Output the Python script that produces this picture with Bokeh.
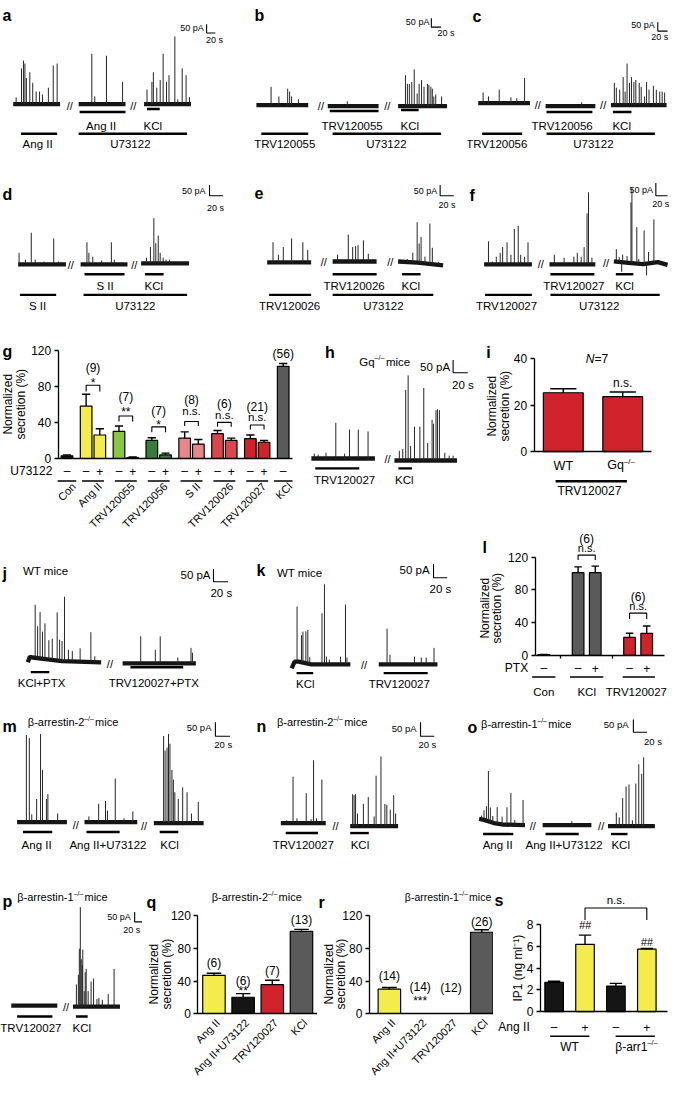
import numpy as np
from bokeh.plotting import figure
from bokeh.layouts import column, row
from bokeh.models import Range1d, LinearAxis, FixedTicker
from bokeh.core.properties import value
from bokeh.embed import file_html
from bokeh.resources import INLINE

# ---------------- DATA ----------------
# Trace spikes: time from segment start (s) and amplitude (pA)
A1_T = [6, 17, 21, 24, 27, 34, 40, 47, 54, 60, 72, 82, 90]
A1_AMP = [49, 259, 315, 294, 189, 231, 154, 91, 91, 70, 119, 280, 294]
A2_T = [27, 33, 57, 90]
A2_AMP = [364, 56, 350, 161]
A3_T = [6, 16, 19, 26, 33, 39, 46, 51, 63, 69, 78, 86, 93]
A3_AMP = [105, 161, 231, 119, 175, 364, 161, 210, 490, 35, 259, 210, 49]
B1_T = [30, 46, 64, 68, 72, 86]
B1_AMP = [133, 63, 119, 98, 63, 42]
B2_T = [40]
B2_AMP = [35]
B3_T = [15, 19, 23, 28, 33, 39, 43, 48, 53, 60, 63, 67, 70, 73, 77, 89]
B3_AMP = [224, 161, 161, 175, 266, 91, 161, 189, 140, 161, 154, 140, 126, 70, 84, 70]
C1_T = [10, 21, 43, 67, 79, 95]
C1_AMP = [77, 49, 98, 42, 35, 182]
C2_T = [74]
C2_AMP = [28]
C3_T = [7, 11, 18, 25, 29, 33, 38, 42, 47, 51, 58, 62, 69, 73, 78, 87, 93, 100, 105, 110]
C3_AMP = [161, 126, 112, 203, 98, 301, 161, 203, 168, 182, 161, 133, 63, 168, 112, 140, 112, 98, 98, 91]
D1_T = [2, 15, 27, 35, 43, 53, 63, 73, 83]
D1_AMP = [84, 35, 231, 35, 14, 21, 14, 189, 21]
D2_T = [13, 17, 25, 43, 63, 69, 83]
D2_AMP = [161, 84, 56, 28, 161, 35, 14]
D3_T = [11, 19, 26, 30, 35, 39, 45, 51, 58, 81]
D3_AMP = [42, 119, 329, 147, 203, 77, 42, 28, 28, 7]
E1_T = [12, 23, 33, 50, 73, 83]
E1_AMP = [147, 56, 112, 175, 147, 91]
E2_T = [10, 32, 41, 47, 52, 63, 73]
E2_AMP = [49, 196, 105, 112, 119, 154, 56]
E3_T = [19, 30, 39, 43, 47, 55, 65, 70, 83]
E3_AMP = [21, 70, 294, 140, 189, 49, 294, 119, 21]
E3_DRIFT_T = [0, 40, 92]
E3_DRIFT = [0, -8, -28]
F1_T = [9, 17, 25, 33, 38, 47, 55, 62, 70, 75, 83, 90]
F1_AMP = [168, 21, 56, 84, 126, 161, 70, 259, 280, 70, 56, 161]
F2_T = [10, 30, 50, 57, 65, 71, 77, 80, 87]
F2_AMP = [70, 49, 56, 84, 56, 126, 371, 525, 49]
F3_T = [5, 11, 16, 18, 27, 35, 37, 47, 51, 62, 67, 71, 82]
F3_AMP = [91, 35, -70, 56, 49, 441, 546, 266, 35, 245, -84, 84, 315]
F3_DRIFT_T = [0, 30, 60, 90, 110]
F3_DRIFT = [0, -10, -20, -5, -25]
H1_T = [6, 14, 30, 50, 68, 78, 96, 116]
H1_AMP = [35, 28, 42, 259, 35, 210, 210, 196]
H2_T = [10, 17, 23, 28, 33, 41, 52, 60, 68, 77, 80, 85, 88, 92, 103, 112, 120]
H2_AMP = [70, 84, 511, 616, 105, 245, 245, 525, 126, 294, 266, 364, 371, 364, 56, 35, 35]
J1_T = [7, 15, 20, 25, 30, 35, 43, 50, 60, 65, 70, 75, 83, 91, 107, 129, 137]
J1_AMP = [14, 385, 231, 336, 196, 259, 140, 154, 350, 154, 147, 469, 84, 77, 98, 217, 42]
J1_DRIFT_T = [0, 4, 10, 40, 70, 150]
J1_DRIFT = [0, 40, 35, 22, 8, 0]
J2_T = [37, 67, 77, 113, 140, 143]
J2_AMP = [196, 98, 196, 42, 112, 77]
K1_T = [11, 20, 23, 29, 33, 37, 62, 67, 71, 77, 100, 110, 113]
K1_AMP = [399, 196, 224, 231, 245, 49, 371, 581, 56, 35, 56, 434, 49]
K1_DRIFT_T = [0, 6, 14, 40, 120]
K1_DRIFT = [-30, 20, 20, 0, 0]
K2_T = [17, 23, 73, 87, 97, 113]
K2_AMP = [259, 70, 56, 49, 49, 119]
M1_T = [19, 25, 30, 40, 48, 52, 60, 63, 83]
M1_AMP = [630, 609, 56, 168, 637, 378, 168, 203, 63]
M2_T = [9, 29, 43, 47, 63, 81, 99]
M2_AMP = [42, 133, 154, 84, 315, 28, 77]
M3_T = [20, 23, 27, 30, 33, 37, 40, 43, 50, 59, 68, 77, 91]
M3_AMP = [630, 525, 546, 644, 574, 385, 315, 224, 175, 259, 224, 70, 154]
N1_T = [12, 25, 33, 52, 62, 67, 73, 84]
N1_AMP = [21, 336, 35, 217, 28, 455, 35, 315]
N2_T = [5, 8, 11, 15, 27, 37, 49, 53, 63, 71, 75, 82, 89, 93]
N2_AMP = [231, 224, 231, 91, 161, 210, 70, 364, 504, 161, 154, 119, 224, 91]
O1_T = [5, 10, 15, 19, 23, 28, 37, 47, 57, 65, 73, 90]
O1_AMP = [28, 70, 105, 364, 105, 49, 119, 56, 126, 231, 35, 182]
O1_DRIFT_T = [0, 10, 30, 50, 94]
O1_DRIFT = [45, 38, 15, 4, 0]
O2_T = [60]
O2_AMP = [28]
O3_T = [17, 23, 30, 37, 43, 50, 57, 63, 69, 73]
O3_AMP = [98, 63, 203, 287, 301, 42, 308, 448, 378, 497]
P1_T = [4]
P1_AMP = [14]
P2_T = [7, 11, 13, 15, 17, 19, 20, 23, 25, 27, 31, 37, 42, 49, 53, 60, 72, 84]
P2_AMP = [161, 231, 420, 721, 343, 300, 413, 112, 250, 273, 112, 182, 203, 56, 63, 49, 91, 273]

# Bar charts
G_GROUPS = ["Con", "Ang II", "TRV120055", "TRV120056", "S II", "TRV120026", "TRV120027", "KCl"]
G_MINUS = [3, 58, 30, 20, 22.5, 27.5, 22, 102]
G_MINUS_ERR = [1, 13, 6, 3, 7, 3.5, 4, 3]
G_PLUS = [None, 26, 1, 4, 16, 20, 18, None]
G_PLUS_ERR = [None, 7, 0.6, 2, 5, 2.5, 2, None]
G_N = ["", "(9)", "(7)", "(7)", "(8)", "(6)", "(21)", "(56)"]
G_SIG = ["", "*", "**", "*", "n.s.", "n.s.", "n.s.", ""]
G_COLORS = ["#151515", "#f3ec4c", "#8cc540", "#3a7b39", "#e7878b", "#d9464c", "#d0222a", "#5a5a5a"]

I_GROUPS = ["WT", "Gq"]
I_VALS = [25.4, 23.7]
I_ERR = [1.7, 2.0]

L_GROUPS = ["Con", "KCl", "TRV120027"]
L_VALS = [1, 101, 101, 22, 27]
L_ERR = [0.3, 7, 8, 5, 9]
L_PTX = ["–", "–", "+", "–", "+"]
L_N = ["(6)", "(6)"]

Q_CATS = ["Ang II", "Ang II+U73122", "TRV120027", "KCl"]
Q_VALS = [47, 20, 35.5, 101]
Q_ERR = [2.5, 4.5, 5.5, 2.5]
Q_N = ["(6)", "(6)", "(7)", "(13)"]
Q_SIG = ["", "**", "", ""]

R_CATS = ["Ang II", "Ang II+U73122", "TRV120027", "KCl"]
R_VALS = [30, 0, 0, 100]
R_ERR = [2, 0, 0, 3]
R_N = ["(14)", "(14)", "(12)", "(26)"]
R_SIG = ["", "***", "", ""]

S_VALS = [2.7, 6.2, 2.35, 5.75]
S_ERR = [0.1, 0.85, 0.25, 0.06]
S_ANGII = ["–", "+", "–", "+"]
S_GROUPS = ["WT", "β-arr1"]

# ---------------- STYLE / LAYOUT ----------------
FONT = "Liberation Sans"
SX = 669 / 685
SY = 1081 / 1097
KX = 0.5    # px per s in traces
KY = 0.14   # px per pA in traces
YEL, RED, GRAY, BLK = "#f3ec4c", "#d0222a", "#5a5a5a", "#151515"

ROW_W = [[258, 220, 207], [258, 220, 207], [312, 178, 195], [260, 230, 195], [258, 217, 210], [145, 180, 180, 180]]
ROW_H = [154, 165, 221, 182, 171, 204]


def scaled(sizes, s):
    out, c, prev = [], 0, 0
    for v in sizes:
        c += v
        e = int(round(c * s))
        out.append(e - prev)
        prev = e
    return out


WS = [scaled(r, SX) for r in ROW_W]
HS = scaled(ROW_H, SY)

CW = {' ': .278, 'a': .556, 'b': .556, 'c': .5, 'd': .556, 'e': .556, 'f': .278, 'g': .556, 'h': .556,
      'i': .222, 'j': .222, 'k': .5, 'l': .222, 'm': .833, 'n': .556, 'o': .556, 'p': .556, 'q': .556,
      'r': .333, 's': .5, 't': .278, 'u': .556, 'v': .5, 'w': .722, 'x': .5, 'y': .5, 'z': .5,
      'A': .667, 'C': .722, 'G': .778, 'I': .278, 'K': .667, 'N': .722, 'P': .667, 'R': .722, 'T': .611,
      'U': .722, 'V': .667, 'W': .944, 'X': .667, 'β': .57, '–': .556, '-': .333, '/': .278,
      '(': .333, ')': .333, '=': .584, '+': .584, '.': .278}


def tw(s, size):
    return sum(CW.get(c, .556) for c in s) * size


def mk(W, H, wpx, hpx, xr, yr, dy=0):
    p = figure(width=wpx, height=hpx, x_range=Range1d(xr[0], xr[1]), y_range=Range1d(yr[0], yr[1]),
               x_axis_type=None, y_axis_type=None, toolbar_location=None, output_backend="svg",
               min_border=0, outline_line_color=None, background_fill_color="white",
               border_fill_color="white")

    def fx(px):
        return xr[0] + np.asarray(px, dtype=float) / W * (xr[1] - xr[0])

    def fy(py):
        return yr[1] - (np.asarray(py, dtype=float) + dy) / H * (yr[1] - yr[0])
    return p, fx, fy


def T(p, x, y, s, size, align="center", base="middle", style="normal", angle=0.0):
    p.text(x=[float(x)], y=[float(y)], text=[s], text_font=value(FONT), text_font_size=value(f"{size}px"),
           text_align=align, text_baseline=base, text_font_style=style, angle=angle, text_color="black")


def suptext(P, x, y, parts, size, align="left"):
    p, fx, fy = P
    sizes = [size * 0.62 if s else size for _, s in parts]
    adv = [tw(t, sz) + (size * 0.12 if s else 0) for (t, s), sz in zip(parts, sizes)]
    total = sum(adv) / SX
    cx = x - total / 2 if align == "center" else x
    for (t, s), sz, a in zip(parts, sizes, adv):
        yy = y - size * 0.34 if s else y
        T(p, fx(cx), fy(yy), t, round(sz, 1), align="left")
        cx += a / SX


def seg(P, x0, x1, base, ts, amps, dt=None, dv=None):
    p, fx, fy = P
    L = (x1 - x0) / KX
    xs0 = float(fx(x0))
    yb = float(fy(base))
    if dt is None:
        dt, dv = [0.0, L], [0.0, 0.0]
    dt = np.asarray(dt, float)
    dv = np.asarray(dv, float)
    p.line(x=list(xs0 + dt), y=list(yb + dv), line_width=4.3, line_color="#151515")
    t = np.asarray(ts, float)
    a = np.asarray(amps, float)
    y0 = yb + np.interp(t, dt, dv)
    p.segment(x0=list(xs0 + t), y0=list(y0), x1=list(xs0 + t), y1=list(y0 + a),
              line_width=1.0, line_color="#262626")


def trace_panel(W, H, wpx, hpx, letter, segs, slashes, bars, scale, title=None, title_size=11.5,
                lab_size=11.5, dy=0):
    P = mk(W, H, wpx, hpx, (0, W / KX), (0, H / KY), dy=dy)
    p, fx, fy = P
    for sg in segs:
        seg(P, *sg)
    for (x, y) in slashes:
        T(p, fx(x), fy(y), "//", 11)
    for (x0, x1, y, lab, lx, ly) in bars:
        p.line(x=list(fx([x0, x1])), y=list(fy([y, y])), line_width=2.4, line_color="black")
        T(p, fx(lx), fy(ly), lab, lab_size)
    xb, yt, yb, xe, t1x, t1y, t2x, t2y, ss = scale
    p.line(x=list(fx([xb, xb, xe])), y=list(fy([yt, yb, yb])), line_width=1.1, line_color="black")
    T(p, fx(t1x), fy(t1y), "50 pA", ss, align="right")
    T(p, fx(t2x), fy(t2y), "20 s", ss)
    ch, lx, ly = letter
    T(p, fx(lx), fy(ly), ch, 16, align="left", base="alphabetic", style="bold")
    if title is not None:
        tx, ty, parts = title
        suptext(P, tx, ty, parts, title_size)
    return p


def yax(p, xloc, lo, hi, ticks):
    ax = LinearAxis(fixed_location=xloc, bounds=(lo, hi), ticker=FixedTicker(ticks=ticks))
    ax.major_tick_in = 0
    ax.major_tick_out = 4
    ax.minor_tick_line_color = None
    ax.axis_line_width = 1.3
    ax.major_tick_line_width = 1.3
    ax.axis_line_color = "black"
    ax.major_tick_line_color = "black"
    ax.major_label_text_font = FONT
    ax.major_label_text_font_size = "12px"
    ax.major_label_text_color = "black"
    ax.major_label_standoff = 3
    p.add_layout(ax, "left")


def ylab(P, lines, xs, yc, size=12):
    p, fx, fy = P
    for s, x in zip(lines, xs):
        T(p, fx(x), fy(yc), s, size, angle=np.pi / 2)


def xax(p, lo, hi, ticks=()):
    ax = LinearAxis(fixed_location=0, bounds=(lo, hi), ticker=FixedTicker(ticks=list(ticks)))
    ax.major_tick_in = 0
    ax.major_tick_out = 3
    ax.minor_tick_line_color = None
    ax.axis_line_width = 1.3
    ax.major_tick_line_width = 1.3
    ax.axis_line_color = "black"
    ax.major_label_text_alpha = 0
    ax.major_label_text_font_size = "1px"
    p.add_layout(ax, "below")


def errs(p, xs, tops, es, cap):
    xs = np.asarray(xs, float)
    tops = np.asarray(tops, float)
    es = np.asarray(es, float)
    p.segment(x0=list(xs), y0=list(tops), x1=list(xs), y1=list(tops + es), line_width=1.4, line_color="black")
    p.segment(x0=list(xs - cap), y0=list(tops + es), x1=list(xs + cap), y1=list(tops + es),
              line_width=1.4, line_color="black")


def bracket(p, xa, xb, top, leg):
    p.line(x=[xa, xa, xb, xb], y=[leg, top, top, leg], line_width=1.1, line_color="black")


BARR2 = [("β-arrestin-2", False), ("–/–", True), (" mice", False)]
BARR1 = [("β-arrestin-1", False), ("–/–", True), (" mice", False)]
NS2 = ["Normalized", "secretion (%)"]

# ---------------- ROW 1 ----------------
pa = trace_panel(258, 154, WS[0][0], HS[0], ("a", 2, 15.5),
                 [(13, 61, 105, A1_T, A1_AMP), (80, 128, 105, A2_T, A2_AMP), (147, 195, 105, A3_T, A3_AMP)],
                 [(71, 107), (136, 107)],
                 [(81, 128, 113, "Ang II", 103, 127), (150, 163, 110, "KCl", 156, 127),
                  (21, 58, 135, "Ang II", 38, 145), (80, 191, 135, "U73122", 133, 145)],
                 (211, 24, 33, 220, 208, 28, 219, 40, 9))
pb = trace_panel(220, 154, WS[0][1], HS[0], ("b", 2, 15.5),
                 [(4, 57, 106, B1_T, B1_AMP), (77, 129, 107, B2_T, B2_AMP), (149, 199, 107, B3_T, B3_AMP)],
                 [(70, 107), (138, 107)],
                 [(79, 129, 112, "TRV120055", 102, 127), (152, 170, 111, "KCl", 161, 127),
                  (9, 57, 135, "TRV120055", 33, 145), (82, 193, 135, "U73122", 137, 145)],
                 (183, 18, 27, 193, 181, 22, 198, 33, 9))
pc = trace_panel(207, 154, WS[0][2], HS[0], ("c", 5, 16),
                 [(11, 64, 104, C1_T, C1_AMP), (80, 131, 107, C2_T, C2_AMP), (147, 204, 106, C3_T, C3_AMP)],
                 [(72, 106), (139, 106)],
                 [(81, 128, 113, "TRV120056", 97, 127), (149, 168, 113, "KCl", 158, 127),
                  (15, 56, 135, "TRV120056", 30, 145), (81, 192, 135, "U73122", 129, 145)],
                 (195, 22, 31, 205, 192, 25, 197, 37, 9))

# ---------------- ROW 2 ----------------
pd_ = trace_panel(258, 165, WS[1][0], HS[1], ("d", 2, 47),
                  [(18, 67, 118, D1_T, D1_AMP), (82, 130, 118, D2_T, D2_AMP), (144, 193, 117, D3_T, D3_AMP)],
                  [(72, 119), (137, 119)],
                  [(86, 127, 128, "S II", 107, 140), (148, 167, 128, "KCl", 157, 140),
                   (20, 57, 149, "S II", 38, 160), (85, 191, 149, "U73122", 138, 160)],
                  (214, 37, 48, 228, 210, 43, 220, 61, 9), dy=-4)
pe = trace_panel(220, 165, WS[1][1], HS[1], ("e", 2, 45),
                 [(15, 60, 116, E1_T, E1_AMP), (82, 127, 115, E2_T, E2_AMP),
                  (149, 195, 115, E3_T, E3_AMP, E3_DRIFT_T, E3_DRIFT)],
                 [(73, 116), (141, 116)],
                 [(82, 127, 128, "TRV120026", 104, 140), (153, 172, 128, "KCl", 162, 140),
                  (17, 60, 149, "TRV120026", 38, 160), (82, 185, 149, "U73122", 134, 160)],
                 (192, 37, 48, 206, 189, 43, 199, 57, 9), dy=-4)
pf = trace_panel(207, 165, WS[1][2], HS[1], ("f", 2, 48),
                 [(17, 66, 118, F1_T, F1_AMP), (84, 131, 118, F2_T, F2_AMP),
                  (150, 205, 115, F3_T, F3_AMP, F3_DRIFT_T, F3_DRIFT)],
                 [(75, 118), (142, 117)],
                 [(85, 130, 128, "TRV120027", 109, 140), (152, 170, 128, "KCl", 161, 140),
                  (18, 66, 149, "TRV120027", 40, 160), (85, 197, 149, "U73122", 135, 160)],
                 (193, 35, 48, 205, 190, 42, 198, 56, 9), dy=-4)

# ---------------- ROW 3: g ----------------
W, H = 312, 221
gy = 110 / 120
P = mk(W, H, WS[2][0], HS[2], (-68 / 14, (W - 68) / 14), (-(H - 146) / gy, 146 / gy), dy=-3)
pg, fx, fy = P
xm = [0.0] + [1.4 + 2.4 * k for k in range(6)] + [15.8]
xp = [None] + [2.4 + 2.4 * k for k in range(6)] + [None]
bx, bt, be, bc, pm = [], [], [], [], []
for i in range(8):
    bx.append(xm[i]); bt.append(G_MINUS[i]); be.append(G_MINUS_ERR[i]); bc.append(G_COLORS[i]); pm.append("–")
    if G_PLUS[i] is not None:
        bx.append(xp[i]); bt.append(G_PLUS[i]); be.append(G_PLUS_ERR[i]); bc.append(G_COLORS[i]); pm.append("+")
pg.vbar(x=bx, top=bt, bottom=0, width=0.85, fill_color=bc, line_color="black", line_width=1.2)
errs(pg, bx, bt, be, 0.3)
xax(pg, -0.643, 16.5)
yax(pg, -0.643, 0, 120, [0, 40, 80, 120])
ylab(P, NS2, [8, 21], 94)
T(pg, fx(2), fy(41), "g", 16, align="left", base="alphabetic", style="bold")
GNY = [None, 100, 68, 52, 65, 60, 57, 116]
GSY = [None, 84, 51, 37, 52, 48, 46, None]
GBT = [None, 81, 47, 35, 41, 40, 37]
GBL = [None, 74, 41, 29, 36, 35, 32]
for i in range(8):
    c = xm[i] if xp[i] is None else (xm[i] + xp[i]) / 2
    if G_N[i]:
        T(pg, c, GNY[i], G_N[i], 12)
    if G_SIG[i]:
        T(pg, c, GSY[i], G_SIG[i], 12 if "*" in G_SIG[i] else 11.5)
        bracket(pg, xm[i], xp[i], GBT[i], GBL[i])
    if xp[i] is None:
        ua, ub = c - 0.68, c + 0.68
    else:
        ua, ub = xm[i] - 0.3, xp[i] + 0.3
    pg.line(x=[ua, ub], y=[-25, -25], line_width=1.5, line_color="black")
    T(pg, c + 0.5, -28.8, G_GROUPS[i], 11, align="right", angle=np.pi / 4)
T(pg, -1.07, -14.2, "U73122", 12, align="right")
for x, s in zip(bx, pm):
    T(pg, x, -14.2, s, 12)

# ---------------- ROW 3: h ----------------
ph = trace_panel(178, 221, WS[2][1], HS[2], ("h", 20, 42),
                 [(6, 71, 149, H1_T, H1_AMP), (91, 155, 151, H2_T, H2_AMP)],
                 [(84, 149)],
                 [(10, 55, 159, "TRV120027", 40, 171), (95, 109, 159, "KCl", 101, 171)],
                 (151, 49, 62, 166, 148, 56, 161, 74, 11.5),
                 title=(55, 51, [("Gq", False), ("–/–", True), (" mice", False)]), dy=-3)

# ---------------- ROW 3: i ----------------
W, H = 195, 221
P = mk(W, H, WS[2][2], HS[2], (-86 / 61, (W - 86) / 61), (-(H - 139) / 2.35, 139 / 2.35), dy=-3)
pi_, fx, fy = P
pi_.vbar(x=[0, 1], top=I_VALS, bottom=0, width=0.67, fill_color=RED, line_color="black", line_width=1.2)
errs(pi_, [0, 1], I_VALS, I_ERR, 0.22)
xax(pi_, -0.49, 1.49)
yax(pi_, -0.49, 0, 40, [0, 20, 40])
ylab(P, NS2, [13, 26], 96)
T(pi_, fx(7), fy(42), "i", 16, align="left", base="alphabetic", style="bold")
T(pi_, 0.525, 40, "N", 12, align="right", style="italic")
T(pi_, 0.525, 40, "=7", 12, align="left")
T(pi_, 1.0, 29.8, "n.s.", 12)
T(pi_, 0.0, -6, I_GROUPS[0], 12.5)
suptext(P, 146, 156, [(I_GROUPS[1], False), ("–/–", True)], 12.5, align="center")
pi_.line(x=[-0.13, 1.07], y=[-12.8, -12.8], line_width=2.4, line_color="black")
T(pi_, 0.44, -17, "TRV120027", 12)

# ---------------- ROW 4 ----------------
pj = trace_panel(260, 182, WS[3][0], HS[3], ("j", 2, 42),
                 [(28, 103, 132, J1_T, J1_AMP, J1_DRIFT_T, J1_DRIFT), (125, 200, 133, J2_T, J2_AMP)],
                 [(112, 134)],
                 [(31, 50, 142, "KCl+PTX", 42, 153), (133, 187, 137, "TRV120027+PTX", 157, 153)],
                 (218, 37, 50, 233, 215, 43, 226, 62, 11.5),
                 title=(23, 39, [("WT mice", False)]))
pk = trace_panel(230, 182, WS[3][1], HS[3], ("k", 2, 39),
                 [(38, 98, 134, K1_T, K1_AMP, K1_DRIFT_T, K1_DRIFT), (127, 187, 134, K2_T, K2_AMP)],
                 [(112, 135)],
                 [(43, 60, 143, "KCl", 52, 154), (132, 177, 143, "TRV120027", 148, 154)],
                 (183, 32, 46, 197, 179, 38, 190, 57, 11.5),
                 title=(23, 41, [("WT mice", False)]))

W, H = 195, 182
ly = 100 / 120
P = mk(W, H, WS[3][2], HS[3], (-66 / 17.6, (W - 66) / 17.6), (-(H - 125) / ly, 125 / ly))
pl, fx, fy = P
LX = [0, 2, 3, 5, 6]
pl.vbar(x=LX, top=L_VALS, bottom=0, width=0.68, fill_color=[BLK, GRAY, GRAY, RED, RED],
        line_color="black", line_width=1.2)
errs(pl, LX, L_VALS, L_ERR, 0.22)
xax(pl, -0.51, 7.05, ticks=[1, 4])
yax(pl, -0.51, 0, 120, [0, 40, 80, 120])
ylab(P, NS2, [6, 18], 77)
T(pl, fx(3), fy(15), "l", 16, align="left", base="alphabetic", style="bold")
bracket(pl, 2, 3, 122.4, 116.4)
T(pl, 2.5, 131, "n.s.", 11)
T(pl, 2.5, 142.5, L_N[0], 12)
bracket(pl, 5, 6, 51.6, 44.4)
T(pl, 5.5, 60, "n.s.", 11)
T(pl, 5.5, 71, L_N[1], 12)
T(pl, -0.91, -15.6, "PTX", 12, align="right")
for x, s in zip(LX, L_PTX):
    T(pl, x, -15.6, s, 12)
for (ua, ub) in [(-0.68, 0.68), (1.53, 3.47), (4.6, 6.48)]:
    pl.line(x=[ua, ub], y=[-26.4, -26.4], line_width=1.5, line_color="black")
for x, s in zip([0, 2.5, 5.4], L_GROUPS):
    T(pl, x, -44.4, s, 11.5)

# ---------------- ROW 5 ----------------
pm_ = trace_panel(258, 171, WS[4][0], HS[4], ("m", 2, 15),
                  [(17, 68, 112, M1_T, M1_AMP), (86, 140, 112, M2_T, M2_AMP), (157, 208, 113, M3_T, M3_AMP)],
                  [(77, 115), (147, 116)],
                  [(23, 53, 122, "Ang II", 37, 135), (88, 122, 122, "Ang II+U73122", 110, 135),
                   (163, 182, 122, "KCl", 173, 135)],
                  (220, 11, 25, 235, 216, 16, 228, 33, 9.5),
                  title=(28, 11, BARR2), title_size=11)
pn = trace_panel(217, 171, WS[4][1], HS[4], ("n", 4, 15),
                 [(29, 75, 113, N1_T, N1_AMP), (100, 149, 116, N2_T, N2_AMP)],
                 [(85, 116)],
                 [(34, 67, 123, "TRV120027", 52, 135), (100, 119, 123, "KCl", 110, 135)],
                 (172, 11, 25, 186, 168, 17, 179, 33, 9.5),
                 title=(25, 11, BARR2), title_size=11)
po = trace_panel(210, 171, WS[4][2], HS[4], ("o", 3, 16),
                 [(15, 62, 115, O1_T, O1_AMP, O1_DRIFT_T, O1_DRIFT), (80, 130, 115, O2_T, O2_AMP),
                  (147, 195, 116, O3_T, O3_AMP)],
                 [(70, 116), (140, 116)],
                 [(19, 50, 124, "Ang II", 34, 135), (83, 117, 124, "Ang II+U73122", 102, 135),
                  (150, 167, 124, "KCl", 160, 135)],
                 (173, 8, 21, 187, 168, 13, 193, 30, 9.5),
                 title=(17, 13, BARR1), title_size=11)

# ---------------- ROW 6 ----------------
pp = trace_panel(145, 204, WS[5][0], HS[5], ("p", 2, 21),
                 [(11, 58, 127, P1_T, P1_AMP), (74, 122, 128, P2_T, P2_AMP)],
                 [(67, 128)],
                 [(17, 53, 138, "TRV120027", 31, 150), (77, 89, 138, "KCl", 83, 150)],
                 (137, 32, 42, 145, 133, 37, 134, 50, 9),
                 title=(17, 17, BARR1), title_size=11)

# q
W, H = 180, 204
qy = 0.825
P = mk(W, H, WS[5][1], HS[5], (-73.5 / 30, (W - 73.5) / 30), (-(H - 135) / qy, 135 / qy))
pq, fx, fy = P
QX = [0, 1, 2, 3]
pq.vbar(x=QX, top=Q_VALS, bottom=0, width=0.77, fill_color=[YEL, BLK, RED, GRAY], line_color="black",
        line_width=1.2)
errs(pq, QX, Q_VALS, Q_ERR, 0.25)
xax(pq, -0.55, 3.55)
yax(pq, -0.55, 0, 120, [0, 40, 80, 120])
ylab(P, NS2, [12, 25], 95)
T(pq, fx(4), fy(22), "q", 16, align="left", base="alphabetic", style="bold")
suptext(P, 119, 17, BARR2, 11, align="center")
for x, n, ny in zip(QX, Q_N, [62, 40, 52, 115]):
    T(pq, x, ny, n, 12)
T(pq, 1, 28, Q_SIG[1], 12)
for x, c in zip(QX, Q_CATS):
    T(pq, x + 0.13, -9.0, c, 11, align="right", angle=np.pi / 4)

# r
P = mk(W, H, WS[5][2], HS[5], (-73.5 / 31.5, (W - 73.5) / 31.5), (-(H - 135) / qy, 135 / qy))
pr, fx, fy = P
RX = [0, 1, 2, 3]
rx_nz = [x for x, v in zip(RX, R_VALS) if v > 0]
rv_nz = [v for v in R_VALS if v > 0]
re_nz = [e for e, v in zip(R_ERR, R_VALS) if v > 0]
pr.vbar(x=rx_nz, top=rv_nz, bottom=0, width=0.73, fill_color=[YEL, GRAY], line_color="black", line_width=1.2)
errs(pr, rx_nz, rv_nz, re_nz, 0.24)
xax(pr, -0.65, 3.38)
yax(pr, -0.65, 0, 120, [0, 40, 80, 120])
ylab(P, NS2, [12, 24], 95)
T(pr, fx(1), fy(22), "r", 16, align="left", base="alphabetic", style="bold")
suptext(P, 135, 17, BARR1, 10.5, align="center")
for x, n, ny in zip(RX, R_N, [46, 33, 32, 113]):
    T(pr, x, ny, n, 12)
T(pr, 1, 16, R_SIG[1], 12)
for x, c in zip(RX, R_CATS):
    T(pr, x + 0.13, -9.0, c, 11, align="right", angle=np.pi / 4)

# s
P = mk(W, H, WS[5][3], HS[5], (-62 / 31.6, (W - 62) / 31.6), (-(H - 133) / 11, 133 / 11))
ps, fx, fy = P
SXP = [0, 1, 2, 3]
ps.vbar(x=SXP, top=S_VALS, bottom=0, width=0.6, fill_color=[BLK, YEL, BLK, YEL], line_color="black",
        line_width=1.2)
errs(ps, SXP, S_VALS, S_ERR, 0.2)
xax(ps, -0.443, 3.67)
yax(ps, -0.443, 0, 8, [0, 2, 4, 6, 8])
ylab(P, ["IP1 (ng ml⁻¹)"], [25], 89)
T(ps, fx(1), fy(20), "s", 16, align="left", base="alphabetic", style="bold")
T(ps, 1, 8.0, "##", 11, style="italic")
T(ps, 3, 6.45, "##", 11, style="italic")
ps.line(x=[1, 1, 3, 3], y=[8.45, 9.55, 9.55, 8.45], line_width=1.1, line_color="black")
T(ps, 2, 10.3, "n.s.", 11.5)
T(ps, -0.79, -1.45, "Ang II", 12, align="right")
for x, s in zip(SXP, S_ANGII):
    T(ps, x, -1.45, s, 12)
for (ua, ub) in [(-0.13, 1.14), (1.99, 3.26)]:
    ps.line(x=[ua, ub], y=[-2.27, -2.27], line_width=1.5, line_color="black")
T(ps, 0.5, -3.27, S_GROUPS[0], 12)
suptext(P, 147, 169, [(S_GROUPS[1], False), ("–/–", True)], 12, align="center")

layout = column(row(pa, pb, pc), row(pd_, pe, pf), row(pg, ph, pi_), row(pj, pk, pl),
                row(pm_, pn, po), row(pp, pq, pr, ps))

open("out.html", "w").write(file_html(layout, INLINE))
